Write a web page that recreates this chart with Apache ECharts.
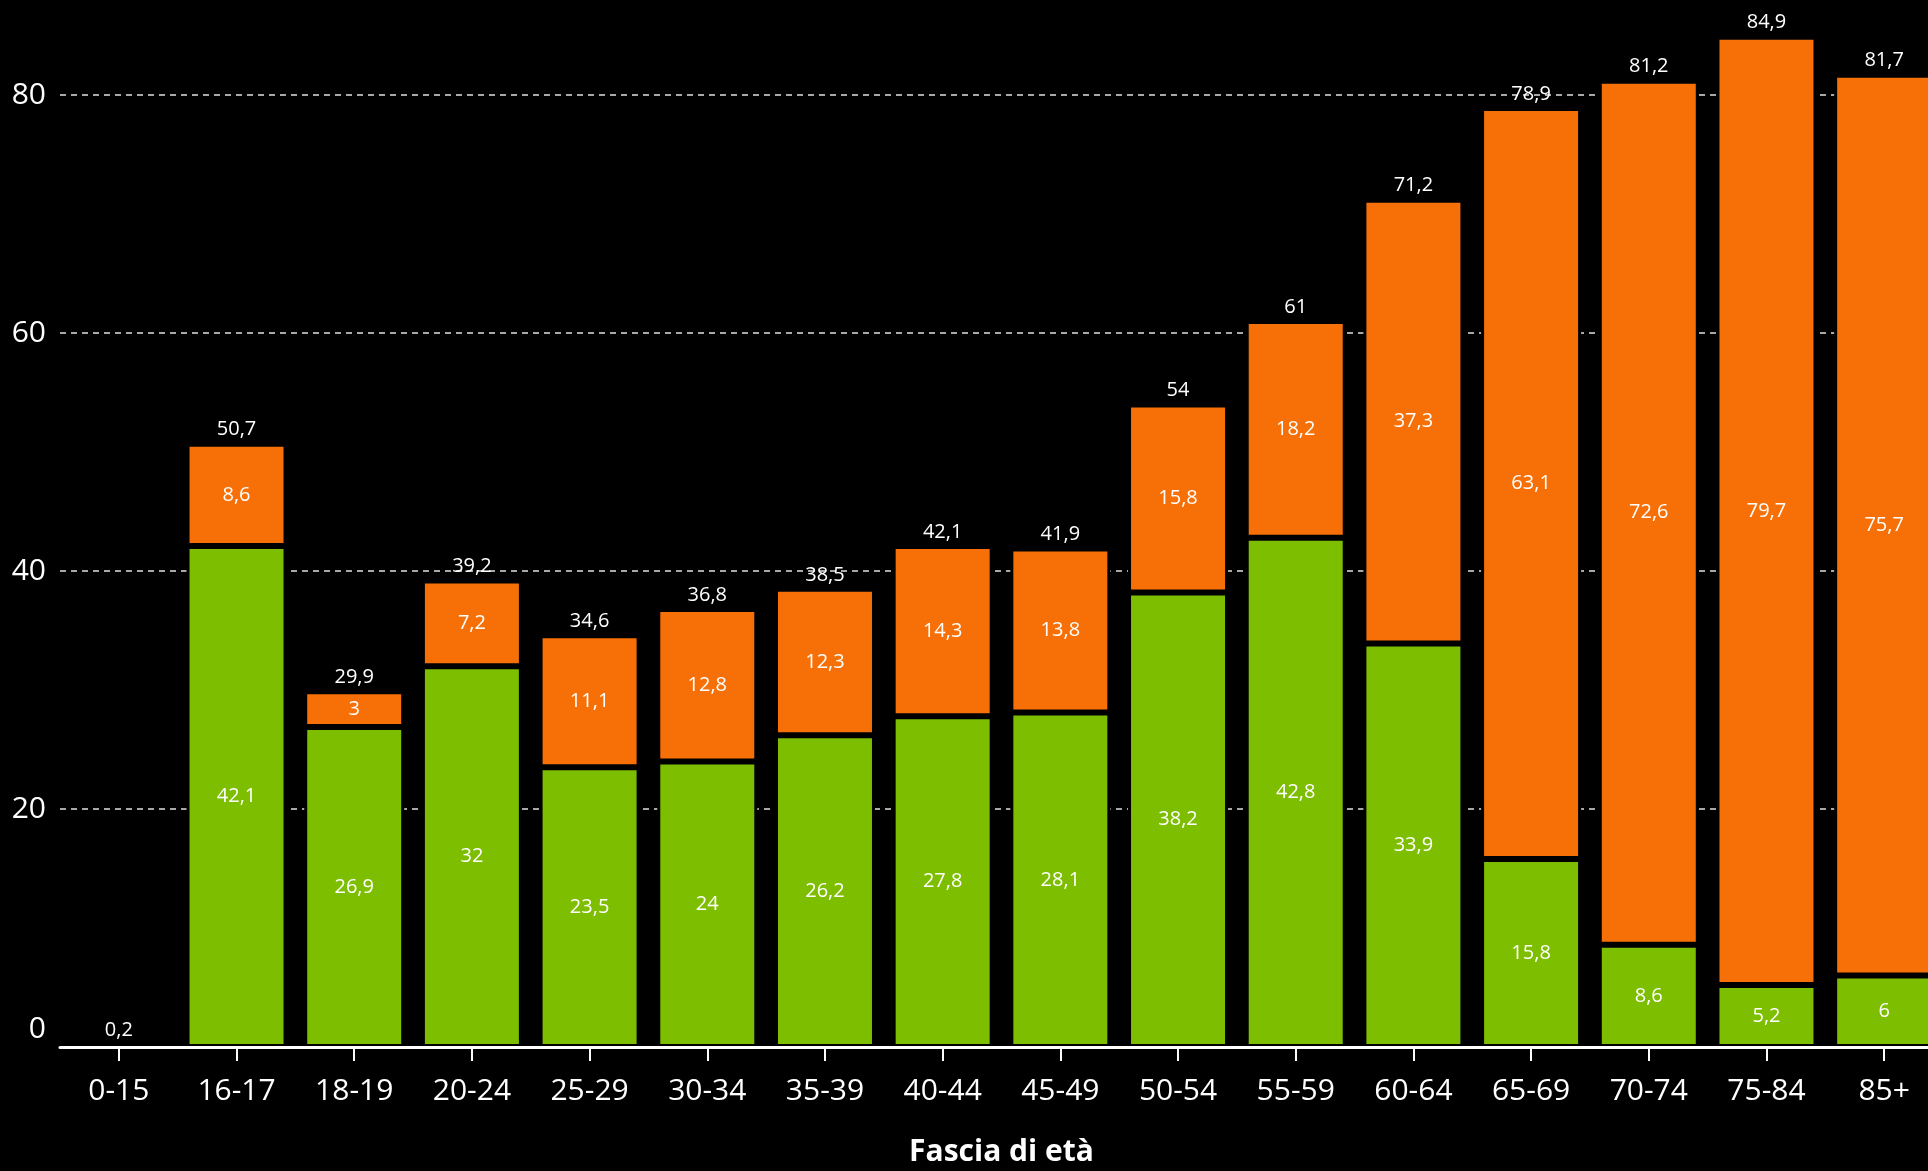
<!DOCTYPE html>
<html>
<head>
<meta charset="utf-8">
<script src="https://cdn.jsdelivr.net/npm/echarts@6/dist/echarts.min.js"></script>
<style>
html,body{margin:0;padding:0;background:#000;overflow:hidden;}
#chart{width:1928px;height:1171px;}
</style>
</head>
<body>
<div id="chart"></div>
<script>
const categories = ['0-15','16-17','18-19','20-24','25-29','30-34','35-39','40-44','45-49','50-54','55-59','60-64','65-69','70-74','75-84','85+'];
const greenValues = [0.2,42.1,26.9,32,23.5,24,26.2,27.8,28.1,38.2,42.8,33.9,15.8,8.6,5.2,6];
const orangeValues = [0,8.6,3,7.2,11.1,12.8,12.3,14.3,13.8,15.8,18.2,37.3,63.1,72.6,79.7,75.7];
const totals = [0.2,50.7,29.9,39.2,34.6,36.8,38.5,42.1,41.9,54,61,71.2,78.9,81.2,84.9,81.7];
const yTicks = [0,20,40,60,80];

const fmt = v => String(v).replace('.', ',');
const font = '"Open Sans", "Noto Sans", sans-serif';

const chart = echarts.init(document.getElementById('chart'), null, {renderer:'canvas', width:1928, height:1171});
const innerLabel = {
  show: true, position: 'inside', color: '#fff', fontSize: 20, fontFamily: font,
  formatter: p => (p.value >= 1 ? fmt(p.value) : '')
};
chart.setOption({
  backgroundColor: '#000',
  animation: false,
  grid: {left: 60, top: 95, width: 1883, height: 952, containLabel: false, outerBoundsMode: 'none'},
  xAxis: {
    type: 'category',
    data: categories,
    z: 10,
    name: 'Fascia di età',
    nameLocation: 'middle',
    nameGap: 90,
    nameTextStyle: {color: '#fff', fontSize: 30, fontWeight: 'bold', fontFamily: font},
    axisLine: {show: true, lineStyle: {color: '#fff', width: 3}},
    axisTick: {show: true, alignWithLabel: true, length: 14, lineStyle: {color: '#fff', width: 2}},
    axisLabel: {color: '#fff', fontSize: 30, fontFamily: font, margin: 29}
  },
  yAxis: {
    type: 'value',
    min: yTicks[0],
    max: yTicks[yTicks.length - 1],
    interval: 20,
    axisLine: {show: false},
    axisTick: {show: false},
    splitLine: {show: true, lineStyle: {color: '#a8a8a8', width: 2, type: [6, 5]}},
    axisLabel: {
      color: '#fff', fontSize: 30, fontFamily: font, margin: 14,
      formatter: v => (v === 0 ? '{z|0}' : String(v)),
      rich: {z: {color: '#fff', fontSize: 30, fontFamily: font, padding: [0, 0, 36, 0]}}
    }
  },
  series: [
    {
      name: 'verde', type: 'bar', stack: 'tot', data: greenValues, barWidth: 100, clip: false,
      itemStyle: {color: '#7dbe00', borderColor: '#000', borderWidth: 3},
      label: innerLabel, z: 3
    },
    {
      name: 'arancio', type: 'bar', stack: 'tot', data: orangeValues, barWidth: 100, clip: false,
      itemStyle: {color: '#f77007', borderColor: '#000', borderWidth: 3},
      label: innerLabel, z: 3
    },
    {
      name: 'totale', type: 'bar', data: totals, barWidth: 100, barGap: '-100%', clip: false,
      itemStyle: {color: 'rgba(0,0,0,0)'},
      label: {show: true, position: 'top', distance: 4, color: '#fff', fontSize: 20, fontFamily: font,
              formatter: p => fmt(p.value)},
      z: 1, silent: true
    }
  ]
});
</script>
</body>
</html>
